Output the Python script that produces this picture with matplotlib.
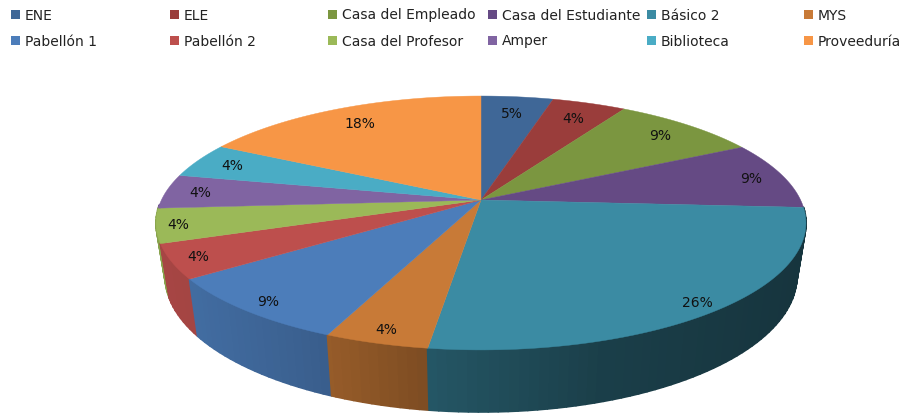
import numpy as np
import matplotlib
matplotlib.use('Agg')
import matplotlib.pyplot as plt

# Data
categories = ['ENE', 'ELE', 'Casa del Empleado', 'Casa del Estudiante', 'Básico 2', 'MYS',
              'Pabellón 1', 'Pabellón 2', 'Casa del Profesor', 'Amper', 'Biblioteca', 'Proveeduría']
values = [4.3, 4.4, 8.7, 8.7, 26.4, 4.4, 8.7, 4.4, 4.4, 4.4, 4.5, 17.3]
pct_labels = ['5%', '4%', '9%', '9%', '26%', '4%', '9%', '4%', '4%', '4%', '4%', '18%']

colors = ['#3f6797', '#9a3d3b', '#7b9640', '#654a84', '#3b8ba3', '#c87a37',
          '#4c7dba', '#bd4f4d', '#9bb958', '#8064a2', '#4aacc5', '#f79646']
label_r = [0.82, 0.83, 0.85, 0.895, 0.93, 0.92, 0.92, 0.92, 0.935, 0.89, 0.875, 0.83]

# Perspective of the disc, in pixels
cx, cy = 481, 201
k, rx, ry = 0.181, 319.6, 122.8


def project(theta, r=1.0):
    # theta in radians, clockwise from 12 o'clock
    u = r * np.sin(theta)
    v = r * np.cos(theta)
    s = 1 / (1 + k * v)
    return cx + rx * u * s, cy - ry * v * s


def lower(x, y):
    # bottom edge of the wall under a rim point
    return cx + (x - cx) * 0.972, cy + (y - cy) * 1.07 + 51.5


def shade(hex_color, x):
    f = np.interp(x, [165, 200, 330, 430, 600, 800], [0.88, 0.86, 0.75, 0.62, 0.45, 0.38])
    return tuple(c * f for c in matplotlib.colors.to_rgb(hex_color))


fig = plt.figure(figsize=(9.11, 4.14), dpi=100)
ax = fig.add_axes([0, 0, 1, 1])
ax.set_xlim(0, 911)
ax.set_ylim(414, 0)
ax.axis('off')

edges = np.cumsum([0] + values) / sum(values) * 2 * np.pi

# Walls, back to front
walls = []
for i, col in enumerate(colors):
    t = np.arange(edges[i], edges[i + 1], np.radians(1.5))
    t = np.append(t, edges[i + 1])
    for a, b in zip(t[:-1], t[1:]):
        walls.append((np.cos((a + b) / 2), a, b, col))
walls.sort(key=lambda w: -w[0])
for v, a, b, col in walls:
    if v > -0.05:
        continue
    x1, y1 = project(a)
    x2, y2 = project(b)
    x3, y3 = lower(x2, y2)
    x4, y4 = lower(x1, y1)
    c = shade(col, (x1 + x2) / 2)
    ax.fill([x1, x2, x3, x4], [y1, y2, y3, y4], color=c, lw=1.3, joinstyle='round')

# Top face
for i, col in enumerate(colors):
    t = np.linspace(edges[i], edges[i + 1], 80)
    xs, ys = project(t)
    ax.fill(np.r_[cx, xs], np.r_[cy, ys], color=col, lw=0.3)

    mid = (edges[i] + edges[i + 1]) / 2
    lx, ly = project(mid, label_r[i])
    ax.text(lx, ly, pct_labels[i], ha='center', va='center', fontsize=10, color='#111111')

# Legend
legend_x = [11, 170, 328, 488, 647, 804]
legend_y = [15, 41]
for i, name in enumerate(categories):
    x = legend_x[i % 6]
    y = legend_y[i // 6]
    ax.fill([x, x + 9, x + 9, x], [y - 4.5, y - 4.5, y + 4.5, y + 4.5], color=colors[i], lw=0)
    ax.text(x + 14, y + 4.5, name, ha='left', va='baseline', fontsize=10, color='#222222')

fig.savefig('out.png', dpi=100)
